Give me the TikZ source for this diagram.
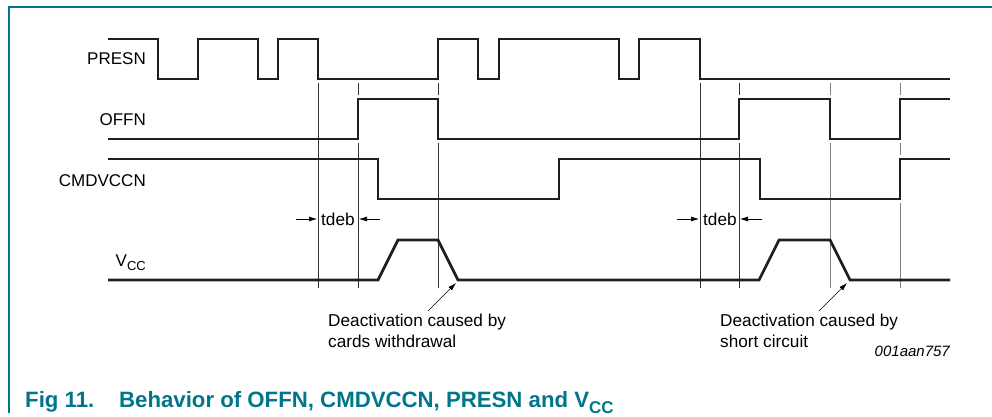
\documentclass[tikz,border=0pt]{standalone}
\usepackage{fontspec}
\setmainfont{Liberation Sans}
\usetikzlibrary{arrows.meta}
\definecolor{nxpteal}{RGB}{0,118,138}
\newcommand{\lblfont}{\fontsize{17}{20}\selectfont}
\newcommand{\notefont}{\fontsize{17.2}{20}\selectfont}
\newcommand{\subcc}[1]{\raisebox{-0.28em}{\fontsize{13}{13}\selectfont #1}}
\begin{document}
\begin{tikzpicture}[x=1pt,y=-1pt,
  sig/.style={line width=2.7pt,black!88,line join=miter},
  vmark/.style={line width=0.8pt,black!80},
  vmarkl/.style={line width=0.9pt,black!50},
  lbl/.style={font=\lblfont,inner sep=0pt,anchor=base east},
  note/.style={font=\notefont,inner sep=0pt,anchor=base west},
  ptr/.style={line width=0.6pt,-{Latex[length=8pt,width=5pt]}},
  frame/.style={line width=1.3pt,nxpteal}]
\useasboundingbox (0,0) rectangle (992,417);
% frame
\draw[frame] (9,413) -- (9,7) -- (992,7);
% labels
\node[lbl] (lpresn) at (146,65) {PRESN};
\node[lbl] (loffn) at (146,125) {OFFN};
\node[lbl] (lcmd) at (146,186) {CMDVCCN};
\node[lbl] (lvcc) at (146,266) {V\subcc{CC}};
% marker lines
\draw[vmark] (318,83) -- (318,288);
\draw[vmark] (700,83) -- (700,288);
\foreach \x in {358,438,739}{
  \draw[vmark] (\x,83) -- (\x,95);
  \draw[vmark] (\x,143) -- (\x,288);
}
\draw[vmarkl] (830,83) -- (830,95);
\draw[vmarkl] (830,143) -- (830,288);
\draw[vmarkl] (900,83) -- (900,95);
\draw[vmarkl] (900,143) -- (900,155);
\draw[vmarkl] (900,203) -- (900,288);
% signals
\draw[sig] (108,39)-|(158,79)-|(198,39)-|(258,79)-|(278,39)-|(318,79)-|(438,39)-|(478,79)-|(499,39)-|(619,79)-|(639,39)-|(700,79)--(950,79);
\draw[sig] (108,139)-|(358,99)-|(438,139)-|(739,99)-|(830,139)-|(900,99)--(950,99);
\draw[sig] (108,159)-|(378,199)-|(559,159)-|(760,199)-|(900,159)--(950,159);
\draw[sig] (108,280)--(378,280)--(398,240)--(438,240)--(458,280)--(759,280)--(779,240)--(830,240)--(850,280)--(950,280);
% tdeb
\coordinate (ta1) at (296,219); \coordinate (tb1) at (317,219);
\coordinate (ta2) at (380,219); \coordinate (tb2) at (359,219);
\draw[ptr] (ta1) -- (tb1);
\draw[ptr] (ta2) -- (tb2);
\node[note] (td1) at (321,225) {tdeb};
\coordinate (ta3) at (677,219); \coordinate (tb3) at (699,219);
\coordinate (ta4) at (762,219); \coordinate (tb4) at (740,219);
\draw[ptr] (ta3) -- (tb3);
\draw[ptr] (ta4) -- (tb4);
\node[note] (td2) at (703,225) {tdeb};
% annotations
\coordinate (p1) at (428,311); \coordinate (q1) at (456,283);
\draw[ptr] (p1) -- (q1);
\node[note] (n1a) at (328,326) {Deactivation caused by};
\node[note] (n1b) at (328,347) {cards withdrawal};
\coordinate (p2) at (819,311); \coordinate (q2) at (847,283);
\draw[ptr] (p2) -- (q2);
\node[note] (n2a) at (720,326) {Deactivation caused by};
\node[note] (n2b) at (720,347) {short circuit};
\node[font=\fontsize{15}{18}\selectfont\itshape,inner sep=0pt,anchor=base east] (code) at (950,356) {001aan757};
% caption
\node[font=\fontsize{22.2}{24}\selectfont\bfseries,text=nxpteal,inner sep=0pt,anchor=base west] (cap1) at (25,407) {Fig 11.};
\node[font=\fontsize{22.2}{24}\selectfont\bfseries,text=nxpteal,inner sep=0pt,anchor=base west] (cap2) at (119,407) {Behavior of OFFN, CMDVCCN, PRESN and V\raisebox{-0.28em}{\fontsize{17}{17}\selectfont CC}};
\end{tikzpicture}
\end{document}
